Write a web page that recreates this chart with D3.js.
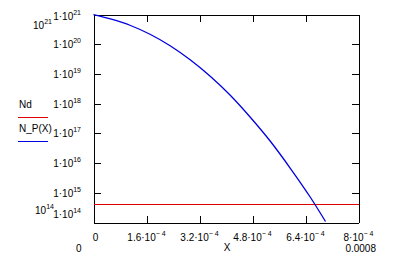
<html lang="en">
<head>
<meta charset="UTF-8">
<script src="https://d3js.org/d3.v7.min.js"></script>
<title>Nd vs N_P(X)</title>
<style>
  * { padding: 0; margin: 0; }
  body { background: #fff; }
  svg { display: block; font-family: "Liberation Sans", Arial, sans-serif; }
  .axis path, .axis line { stroke: #000; shape-rendering: crispEdges; }
</style>
</head>
<body>
<div id="chart"></div>
<script>
  const w = 394;
  const h = 260;

  // values
  const xVals = [0, 5.13e-5, 1.117e-4, 1.721e-4, 2.325e-4, 2.928e-4, 3.532e-4, 4.136e-4,
                 4.74e-4, 5.344e-4, 5.947e-4, 6.551e-4, 7.004e-4];
  const npVals = [1e21, 7.06e20, 4.26e20, 2.12e20, 8.71e19, 2.94e19, 8.2e18, 1.88e18,
                  3.42e17, 5.32e16, 6.56e15, 6.93e14, 1.08e14];
  const nd = 4.26e14;
  const xTicks = [0, 1.6e-4, 3.2e-4, 4.8e-4, 6.4e-4, 8e-4];
  const yTicks = [1e14, 1e15, 1e16, 1e17, 1e18, 1e19, 1e20, 1e21];

  const svg = d3.select('#chart').append('svg')
      .attr('width', w)
      .attr('height', h);

  const x = d3.scaleLinear().domain([0, 8e-4]).range([93.5, 358.5]);
  const y = d3.scaleLog().domain([1e14, 1e21]).range([222.5, 14.5]);

  const tk = 7;
  svg.append('g').attr('class', 'axis')
      .attr('transform', 'translate(0,' + y(1e14) + ')')
      .call(d3.axisBottom(x).tickValues(xTicks).tickSizeInner(-tk).tickSizeOuter(0).tickFormat(''));
  svg.append('g').attr('class', 'axis')
      .attr('transform', 'translate(0,' + y(1e21) + ')')
      .call(d3.axisTop(x).tickValues(xTicks).tickSizeInner(-tk).tickSizeOuter(0).tickFormat(''));
  svg.append('g').attr('class', 'axis')
      .attr('transform', 'translate(' + x(0) + ',0)')
      .call(d3.axisLeft(y).tickValues(yTicks).tickSizeInner(-tk).tickSizeOuter(0).tickFormat(''));
  svg.append('g').attr('class', 'axis')
      .attr('transform', 'translate(' + x(8e-4) + ',0)')
      .call(d3.axisRight(y).tickValues(yTicks).tickSizeInner(-tk).tickSizeOuter(0).tickFormat(''));

  // Nd horizontal line
  svg.append('line')
      .attr('x1', x(0)).attr('x2', x(8e-4))
      .attr('y1', Math.round(y(nd)) + 0.5).attr('y2', Math.round(y(nd)) + 0.5)
      .attr('stroke', '#e00000')
      .attr('stroke-width', 1)
      .style('shape-rendering', 'crispEdges');

  // N_P(X) curve
  const line = d3.line()
      .x((d, i) => x(xVals[i]))
      .y((d) => y(d))
      .curve(d3.curveMonotoneX);
  svg.append('path')
      .datum(npVals)
      .attr('d', line)
      .attr('fill', 'none')
      .attr('stroke', '#0000e0')
      .attr('stroke-width', 1.3);

  function powText(sel, base, exp) {
    sel.append('tspan').text(base);
    sel.append('tspan').attr('dy', -5).style('font-size', '7px').text(exp);
  }

  // y tick labels
  yTicks.forEach((v) => {
    const e = Math.round(Math.log10(v));
    let yy = y(v) + 4;
    if (v === 1e14) yy -= 9;
    if (v === 1e21) yy += 1;
    const t = svg.append('text')
        .attr('x', 81).attr('y', yy)
        .attr('text-anchor', 'end')
        .style('font-size', '10px');
    powText(t, '1\u00b710', String(e));
  });

  // x tick labels
  xTicks.forEach((v) => {
    const t = svg.append('text')
        .attr('x', v === 0 ? x(v) + 2 : x(v))
        .attr('y', 241)
        .attr('text-anchor', 'middle')
        .style('font-size', '10px');
    if (v === 0) {
      t.text('0');
    } else {
      const m = Math.round(v / 1e-5) / 10;
      t.append('tspan').text(m + '\u00b710');
      t.append('tspan').attr('dy', -5).style('font-size', '7px').text('\u2212 4');
    }
  });

  // axis limits and titles
  const lim21 = svg.append('text').attr('x', 33).attr('y', 29).style('font-size', '10px');
  powText(lim21, '10', '21');
  const lim14 = svg.append('text').attr('x', 35).attr('y', 214).style('font-size', '10px');
  powText(lim14, '10', '14');
  svg.append('text').attr('x', 76).attr('y', 252).style('font-size', '10px').text('0');
  svg.append('text').attr('x', 376).attr('y', 252).attr('text-anchor', 'end').style('font-size', '10px').text('0.0008');
  svg.append('text').attr('x', 227).attr('y', 251).attr('text-anchor', 'middle').style('font-size', '10px').text('X');

  // legend
  const legend = [
    { name: 'Nd', color: '#e00000', ty: 108, ly: 117.5 },
    { name: 'N_P(X)', color: '#0000e0', ty: 132, ly: 141.5 }
  ];
  legend.forEach((d) => {
    svg.append('text').attr('x', 19).attr('y', d.ty).style('font-size', '10px').text(d.name);
    svg.append('line')
        .attr('x1', 18).attr('x2', 48)
        .attr('y1', d.ly).attr('y2', d.ly)
        .attr('stroke', d.color)
        .style('shape-rendering', 'crispEdges');
  });
</script>
</body>
</html>
